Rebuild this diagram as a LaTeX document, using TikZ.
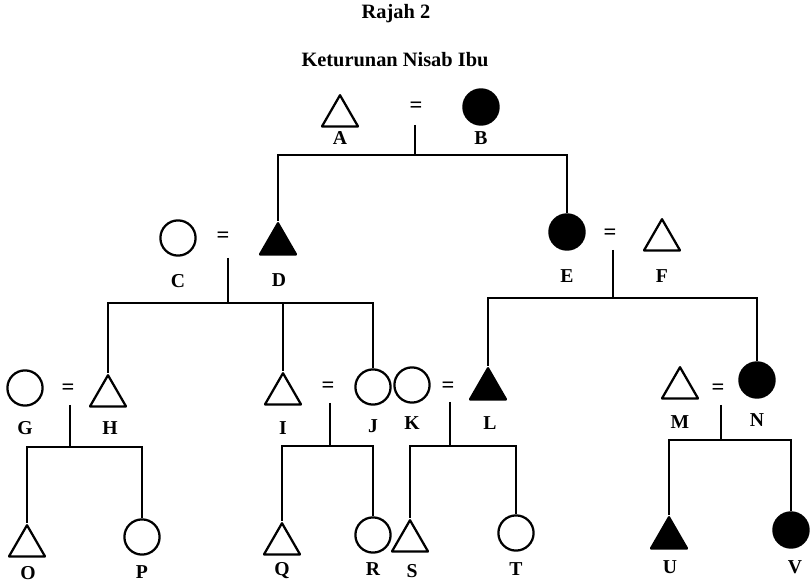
\documentclass[tikz,border=0pt]{standalone}
\usepackage{fontspec}
\setmainfont{Liberation Serif}
\usetikzlibrary{shapes.geometric}

\begin{document}
\begin{tikzpicture}[x=0.025cm,y=-0.025cm,line width=1.6pt,
  male/.style={draw,regular polygon,regular polygon sides=3,minimum size=1.04cm,inner sep=0pt,line join=round},
  female/.style={draw,circle,minimum size=0.88cm,inner sep=0pt},
  lbl/.style={font=\fontsize{14}{14}\selectfont\bfseries,inner sep=0pt},
  eq/.style={font=\fontsize{16}{16}\selectfont\bfseries,inner sep=0pt}]
  \useasboundingbox (0,0) rectangle (811,583);

  \node[font=\fontsize{14.5}{14.5}\selectfont\bfseries] (title) at (396,14){Rajah 2};
  \node[font=\fontsize{14.5}{14.5}\selectfont\bfseries] (subtitle) at (395,60){Keturunan Nisab Ibu};

  % generation 1
  \node[male] (A) at (340,116){};
  \node[female,fill] (B) at (481,107){};
  \node[eq] (eAB) at (416,107){=};
  \coordinate (mAB) at (415,125);
  \coordinate (bAB) at (415,155);

  % generation 2
  \node[female] (C) at (178,238){};
  \node[male,fill] (D) at (278,244){};
  \node[eq] (eCD) at (223,237){=};
  \coordinate (mCD) at (228,258);
  \coordinate (bCD) at (228,303);
  \node[female,fill] (E) at (567,232){};
  \node[male] (F) at (662,240){};
  \node[eq] (eEF) at (610,234){=};
  \coordinate (mEF) at (613,250);
  \coordinate (bEF) at (613,298);

  % generation 3
  \node[female] (G) at (25,388){};
  \node[male] (H) at (108,396){};
  \node[eq] (eGH) at (68,389){=};
  \coordinate (mGH) at (70,405);
  \coordinate (bGH) at (70,447);
  \node[male] (I) at (283,394){};
  \node[female] (J) at (373,387){};
  \node[eq] (eIJ) at (328,387){=};
  \coordinate (mIJ) at (330,403);
  \coordinate (bIJ) at (330,446);
  \node[female] (K) at (412,385){};
  \node[male,fill] (L) at (488,389){};
  \node[eq] (eKL) at (448,387){=};
  \coordinate (mKL) at (450,402);
  \coordinate (bKL) at (450,446);
  \node[male] (M) at (680,388){};
  \node[female,fill] (N) at (757,380){};
  \node[eq] (eMN) at (718,389){=};
  \coordinate (mMN) at (721,405);
  \coordinate (bMN) at (721,440);

  % generation 4
  \node[male] (O) at (27,546){};
  \node[female] (P) at (142,537){};
  \node[male] (Q) at (282,544){};
  \node[female] (R) at (373,535){};
  \node[male] (S) at (410,541){};
  \node[female] (T) at (516,533){};
  \node[male,fill] (U) at (669,538){};
  \node[female,fill] (V) at (791,530){};

  % letters
  \node[lbl] (tA) at (340,138){A};
  \node[lbl] (tB) at (481,138){B};
  \node[lbl] (tC) at (178,281){C};
  \node[lbl] (tD) at (279,280){D};
  \node[lbl] (tE) at (567,276){E};
  \node[lbl] (tF) at (662,276){F};
  \node[lbl] (tG) at (25,428){G};
  \node[lbl] (tH) at (110,428){H};
  \node[lbl] (tI) at (283,428){I};
  \node[lbl] (tJ) at (373,426){J};
  \node[lbl] (tK) at (412,423){K};
  \node[lbl] (tL) at (490,423){L};
  \node[lbl] (tM) at (680,422){M};
  \node[lbl] (tN) at (757,420){N};
  \node[lbl] (tO) at (28,573){O};
  \node[lbl] (tP) at (142,572){P};
  \node[lbl] (tQ) at (282,571){Q};
  \node[lbl] (tR) at (373,569){R};
  \node[lbl] (tS) at (412,571){S};
  \node[lbl] (tT) at (516,569){T};
  \node[lbl] (tU) at (670,567){U};
  \node[lbl] (tV) at (795,567){V};

  % descent lines
  \draw (mAB) -- (bAB);
  \draw (D.corner 1) |- (bAB) -| (E.north);
  \draw (mCD) -- (bCD);
  \draw (H.corner 1) |- (bCD) -| (J.north);
  \draw (I.corner 1) -- (I.corner 1 |- bCD);
  \draw (mEF) -- (bEF);
  \draw (L.corner 1) |- (bEF) -| (N.north);
  \draw (mGH) -- (bGH);
  \draw (O.corner 1) |- (bGH) -| (P.north);
  \draw (mIJ) -- (bIJ);
  \draw (Q.corner 1) |- (bIJ) -| (R.north);
  \draw (mKL) -- (bKL);
  \draw (S.corner 1) |- (bKL) -| (T.north);
  \draw (mMN) -- (bMN);
  \draw (U.corner 1) |- (bMN) -| (V.north);
\end{tikzpicture}
\end{document}
